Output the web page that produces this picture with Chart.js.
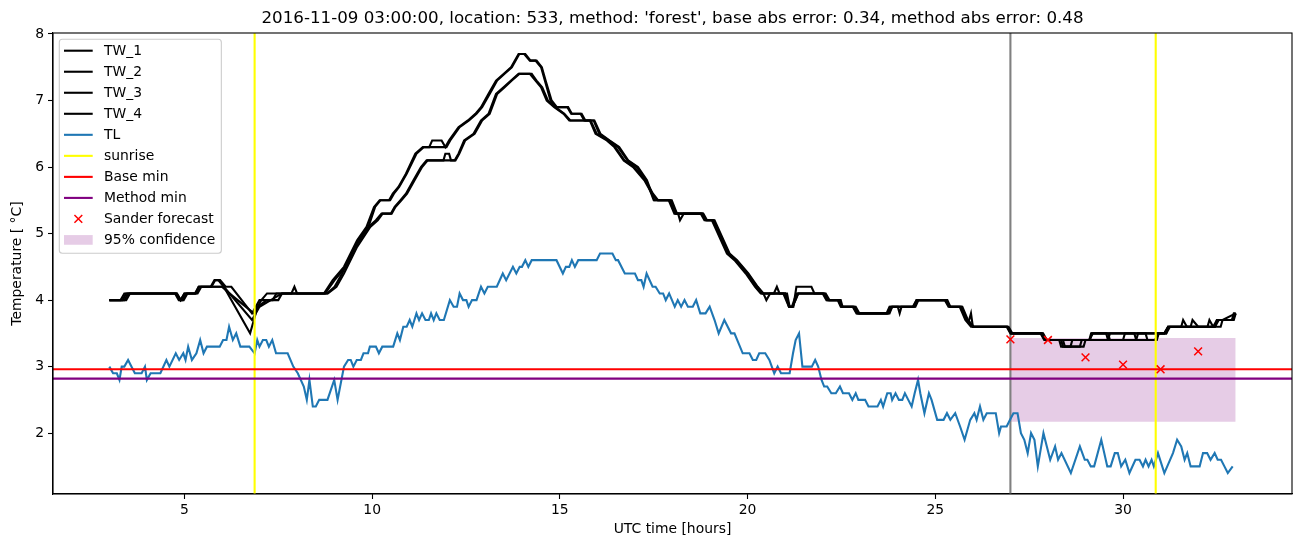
<!DOCTYPE html>
<html>
<head>
<meta charset="utf-8">
<script src="https://cdn.jsdelivr.net/npm/chart.js@4.4.1/dist/chart.umd.min.js"></script>
<style>
  html, body { margin: 0; padding: 0; background: #fff; }
  #wrap { width: 1302px; height: 547px; }
</style>
</head>
<body>
<div id="wrap"><canvas id="chart" width="1302" height="547"></canvas></div>
<script>
const titleText = "2016-11-09 03:00:00, location: 533, method: 'forest', base abs error: 0.34, method abs error: 0.48";
const fontFamily = '"DejaVu Sans", sans-serif';

const xTicks = [5, 10, 15, 20, 25, 30];
const yTicks = [2, 3, 4, 5, 6, 7, 8];
const xRange = [1.5, 34.5];
const yRange = [1.085, 8.015];

// [hour, value]
const TW_1 = [[3.0,4.0],[3.3,4.0],[3.4,4.1],[4.8,4.1],[4.9,4.0],[5.0,4.1],[5.3,4.1],[5.4,4.2],[5.7,4.2],[5.8,4.3],[5.95,4.3],[6.1,4.2],[6.25,4.2],[6.8,3.8],[7.0,4.0],[7.35,4.0],[7.45,4.1],[7.85,4.1],[7.93,4.2],[8.0,4.1],[8.72,4.1],[8.95,4.3],[9.25,4.5],[9.6,4.9],[9.85,5.1],[10.05,5.4],[10.2,5.5],[10.45,5.5],[10.55,5.6],[10.7,5.7],[10.9,5.9],[11.15,6.2],[11.35,6.3],[11.52,6.3],[11.6,6.4],[11.85,6.4],[11.95,6.3],[12.05,6.4],[12.3,6.6],[12.55,6.7],[12.75,6.8],[12.9,6.9],[13.1,7.1],[13.3,7.3],[13.5,7.4],[13.7,7.5],[13.9,7.7],[14.05,7.7],[14.2,7.6],[14.35,7.6],[14.5,7.5],[14.6,7.3],[14.75,7.0],[14.9,6.9],[15.2,6.9],[15.3,6.8],[15.55,6.8],[15.65,6.7],[15.9,6.7],[16.05,6.5],[16.3,6.4],[16.55,6.3],[16.8,6.1],[17.05,6.0],[17.3,5.8],[17.5,5.5],[17.9,5.5],[18.05,5.3],[18.8,5.3],[18.9,5.2],[19.1,5.2],[19.5,4.7],[19.7,4.6],[20.0,4.4],[20.25,4.2],[20.4,4.1],[21.0,4.1],[21.1,3.9],[21.2,3.9],[21.35,4.1],[22.05,4.1],[22.15,4.0],[22.45,4.0],[22.5,3.9],[22.85,3.9],[22.95,3.8],[23.7,3.8],[23.78,3.9],[24.45,3.9],[24.52,4.0],[25.3,4.0],[25.38,3.9],[25.7,3.9],[25.85,3.7],[26.0,3.6],[26.9,3.6],[27.0,3.5],[27.85,3.5],[27.95,3.4],[29.1,3.4],[29.15,3.5],[29.6,3.5],[29.65,3.4],[30.0,3.4],[30.05,3.5],[31.1,3.5],[31.2,3.6],[32.4,3.6],[32.5,3.7],[32.9,3.7],[33.0,3.8]];
const TW_2 = [[3.0,4.0],[3.35,4.0],[3.45,4.1],[4.78,4.1],[4.88,4.0],[4.95,4.0],[5.05,4.1],[5.3,4.1],[5.38,4.2],[5.72,4.2],[5.82,4.3],[5.9,4.3],[6.05,4.2],[6.8,3.7],[7.0,3.9],[7.3,4.0],[7.6,4.1],[8.75,4.1],[9.0,4.3],[9.3,4.5],[9.62,4.9],[9.9,5.1],[10.08,5.4],[10.22,5.5],[10.48,5.5],[10.58,5.6],[10.72,5.7],[10.92,5.9],[11.18,6.2],[11.38,6.3],[11.98,6.3],[12.08,6.4],[12.33,6.6],[12.58,6.7],[12.78,6.8],[12.93,6.9],[13.13,7.1],[13.33,7.3],[13.52,7.4],[13.72,7.5],[13.92,7.7],[14.08,7.7],[14.22,7.6],[14.38,7.6],[14.52,7.5],[14.62,7.3],[14.78,7.0],[14.92,6.9],[15.22,6.9],[15.32,6.8],[15.58,6.8],[15.68,6.7],[15.92,6.7],[16.08,6.5],[16.32,6.4],[16.58,6.3],[16.82,6.1],[17.08,6.0],[17.32,5.8],[17.52,5.5],[17.92,5.5],[18.08,5.3],[18.15,5.3],[18.2,5.2],[18.3,5.3],[18.82,5.3],[18.92,5.2],[19.12,5.2],[19.52,4.7],[19.72,4.6],[20.02,4.4],[20.27,4.2],[20.42,4.1],[20.5,4.0],[20.6,4.1],[20.7,4.1],[20.78,4.2],[20.85,4.1],[21.05,4.1],[21.12,3.9],[21.22,3.9],[21.3,4.2],[21.7,4.2],[21.78,4.1],[22.08,4.1],[22.18,4.0],[22.48,4.0],[22.53,3.9],[22.88,3.9],[22.98,3.8],[23.72,3.8],[23.8,3.9],[24.47,3.9],[24.55,4.0],[25.32,4.0],[25.4,3.9],[25.72,3.9],[25.87,3.7],[26.02,3.6],[26.92,3.6],[27.02,3.5],[27.87,3.5],[27.97,3.4],[28.3,3.4],[28.35,3.3],[28.6,3.3],[28.65,3.4],[29.12,3.4],[29.17,3.5],[30.3,3.5],[30.35,3.4],[30.9,3.4],[30.95,3.5],[31.15,3.5],[31.25,3.6],[31.55,3.6],[31.6,3.7],[31.7,3.6],[32.45,3.6],[32.55,3.7],[32.95,3.7],[33.0,3.8]];
const TW_3 = [[3.0,4.0],[3.4,4.0],[3.5,4.1],[4.8,4.1],[4.9,4.0],[5.0,4.1],[5.28,4.1],[5.38,4.2],[6.05,4.2],[6.75,3.5],[6.95,3.9],[7.2,4.0],[7.5,4.0],[7.6,4.1],[8.8,4.1],[9.0,4.2],[9.2,4.4],[9.55,4.8],[9.9,5.1],[10.1,5.2],[10.25,5.3],[10.5,5.3],[10.6,5.4],[10.75,5.5],[10.9,5.6],[11.1,5.8],[11.3,6.0],[11.45,6.1],[12.2,6.1],[12.3,6.2],[12.45,6.4],[12.7,6.5],[12.9,6.7],[13.1,6.8],[13.3,7.1],[13.5,7.2],[13.7,7.3],[13.9,7.4],[14.2,7.4],[14.35,7.3],[14.5,7.2],[14.65,7.0],[14.85,6.9],[15.1,6.8],[15.25,6.7],[15.8,6.7],[15.95,6.5],[16.25,6.4],[16.45,6.3],[16.7,6.1],[16.95,6.0],[17.25,5.8],[17.45,5.6],[17.6,5.5],[17.95,5.5],[18.1,5.3],[18.75,5.3],[18.85,5.2],[19.05,5.2],[19.45,4.7],[19.65,4.6],[19.95,4.4],[20.2,4.2],[20.35,4.1],[21.0,4.1],[21.12,3.9],[21.2,3.9],[21.35,4.1],[22.0,4.1],[22.1,4.0],[22.4,4.0],[22.48,3.9],[22.8,3.9],[22.9,3.8],[23.75,3.8],[23.85,3.9],[24.4,3.9],[24.5,4.0],[25.25,4.0],[25.35,3.9],[25.65,3.9],[25.8,3.7],[25.95,3.6],[26.95,3.6],[27.05,3.5],[27.8,3.5],[27.9,3.4],[28.35,3.4],[28.4,3.3],[28.85,3.3],[28.9,3.4],[29.1,3.4],[29.2,3.5],[29.55,3.5],[29.6,3.4],[30.35,3.4],[30.4,3.5],[31.1,3.5],[31.2,3.6],[31.8,3.6],[31.85,3.7],[32.0,3.6],[32.45,3.6],[32.5,3.7],[32.9,3.7],[32.95,3.8],[33.0,3.8]];
const TW_4 = [[3.0,4.0],[3.45,4.0],[3.55,4.1],[4.75,4.1],[4.85,4.0],[4.98,4.0],[5.08,4.1],[5.35,4.1],[5.45,4.2],[6.0,4.2],[6.2,4.1],[6.85,3.8],[7.05,4.0],[7.2,4.1],[8.82,4.1],[9.05,4.2],[9.25,4.4],[9.6,4.8],[9.95,5.1],[10.15,5.2],[10.28,5.3],[10.52,5.3],[10.62,5.4],[10.78,5.5],[10.93,5.6],[11.13,5.8],[11.33,6.0],[11.48,6.1],[11.9,6.1],[11.95,6.2],[12.05,6.2],[12.1,6.1],[12.22,6.1],[12.32,6.2],[12.48,6.4],[12.73,6.5],[12.93,6.7],[13.13,6.8],[13.33,7.1],[13.53,7.2],[13.72,7.3],[13.92,7.4],[14.25,7.4],[14.38,7.3],[14.53,7.2],[14.68,7.0],[14.88,6.9],[15.12,6.8],[15.28,6.7],[15.82,6.7],[15.98,6.5],[16.28,6.4],[16.48,6.3],[16.72,6.1],[16.98,6.0],[17.28,5.8],[17.48,5.6],[17.62,5.5],[17.98,5.5],[18.12,5.3],[18.78,5.3],[18.88,5.2],[19.08,5.2],[19.48,4.7],[19.68,4.6],[19.98,4.4],[20.22,4.2],[20.38,4.1],[20.95,4.1],[21.1,3.9],[21.18,3.9],[21.3,4.1],[22.02,4.1],[22.12,4.0],[22.42,4.0],[22.5,3.9],[22.82,3.9],[22.92,3.8],[23.78,3.8],[23.85,3.9],[24.0,3.9],[24.05,3.8],[24.1,3.9],[24.42,3.9],[24.5,4.0],[25.28,4.0],[25.38,3.9],[25.68,3.9],[25.82,3.7],[25.9,3.7],[25.95,3.8],[26.0,3.6],[26.92,3.6],[27.02,3.5],[27.82,3.5],[27.92,3.4],[28.4,3.4],[28.45,3.3],[28.95,3.3],[29.0,3.4],[29.6,3.4],[29.65,3.5],[30.6,3.5],[30.65,3.4],[30.85,3.4],[30.95,3.5],[31.15,3.5],[31.2,3.6],[32.25,3.6],[32.3,3.7],[32.4,3.6],[32.6,3.6],[32.65,3.7],[33.0,3.8]];

const TL = [[3.0,3.0],[3.1,2.9],[3.2,2.9],[3.27,2.8],[3.33,3.0],[3.4,3.0],[3.5,3.1],[3.68,2.9],[3.86,2.9],[3.95,3.0],[4.0,2.8],[4.1,2.9],[4.36,2.9],[4.52,3.1],[4.6,3.0],[4.77,3.2],[4.86,3.1],[4.97,3.2],[5.03,3.1],[5.1,3.3],[5.2,3.1],[5.32,3.2],[5.42,3.4],[5.51,3.2],[5.6,3.3],[5.94,3.3],[6.03,3.4],[6.12,3.4],[6.19,3.6],[6.29,3.4],[6.38,3.5],[6.49,3.3],[6.73,3.3],[6.87,3.2],[6.94,3.4],[7.0,3.3],[7.09,3.4],[7.18,3.4],[7.25,3.3],[7.34,3.4],[7.44,3.2],[7.75,3.2],[7.9,3.0],[8.02,2.9],[8.18,2.7],[8.26,2.5],[8.33,2.8],[8.42,2.4],[8.5,2.4],[8.59,2.5],[8.81,2.5],[8.99,2.8],[9.08,2.5],[9.25,3.0],[9.36,3.1],[9.43,3.1],[9.5,3.0],[9.59,3.1],[9.7,3.1],[9.77,3.2],[9.89,3.2],[9.94,3.3],[10.1,3.3],[10.18,3.2],[10.27,3.3],[10.56,3.3],[10.67,3.5],[10.74,3.4],[10.83,3.6],[10.92,3.6],[11.0,3.7],[11.07,3.6],[11.18,3.8],[11.25,3.7],[11.33,3.8],[11.42,3.7],[11.51,3.7],[11.57,3.8],[11.64,3.7],[11.71,3.8],[11.8,3.7],[11.91,3.7],[12.07,4.0],[12.17,3.9],[12.26,3.9],[12.33,4.1],[12.42,4.0],[12.51,4.0],[12.57,3.9],[12.66,4.0],[12.78,4.0],[12.9,4.2],[12.99,4.1],[13.08,4.2],[13.32,4.2],[13.48,4.4],[13.57,4.3],[13.75,4.5],[13.84,4.4],[13.93,4.5],[13.99,4.5],[14.08,4.6],[14.16,4.5],[14.25,4.6],[14.91,4.6],[15.08,4.4],[15.16,4.5],[15.25,4.5],[15.32,4.6],[15.4,4.5],[15.49,4.6],[15.98,4.6],[16.07,4.7],[16.4,4.7],[16.49,4.6],[16.55,4.6],[16.73,4.4],[17.0,4.4],[17.08,4.3],[17.17,4.3],[17.23,4.2],[17.31,4.4],[17.47,4.2],[17.55,4.2],[17.66,4.1],[17.75,4.1],[17.82,4.0],[17.91,4.1],[18.06,3.9],[18.14,4.0],[18.23,3.9],[18.32,4.0],[18.41,3.9],[18.54,3.9],[18.63,4.0],[18.74,3.8],[18.88,3.8],[18.99,3.9],[19.12,3.7],[19.23,3.5],[19.38,3.7],[19.56,3.5],[19.65,3.5],[19.87,3.2],[20.05,3.2],[20.14,3.1],[20.23,3.1],[20.31,3.2],[20.47,3.2],[20.58,3.1],[20.71,2.9],[20.8,3.0],[20.89,2.9],[21.12,2.9],[21.21,3.2],[21.28,3.4],[21.37,3.5],[21.46,3.0],[21.71,3.0],[21.8,3.1],[21.88,3.0],[21.97,2.8],[22.04,2.7],[22.12,2.7],[22.23,2.6],[22.35,2.6],[22.46,2.7],[22.54,2.6],[22.7,2.6],[22.79,2.5],[22.88,2.6],[22.95,2.5],[23.13,2.5],[23.22,2.4],[23.46,2.4],[23.55,2.5],[23.61,2.4],[23.72,2.6],[23.81,2.6],[23.85,2.5],[23.94,2.6],[24.03,2.5],[24.12,2.5],[24.19,2.6],[24.28,2.5],[24.37,2.4],[24.45,2.6],[24.54,2.8],[24.6,2.6],[24.71,2.3],[24.83,2.6],[24.9,2.5],[25.05,2.2],[25.22,2.2],[25.31,2.3],[25.4,2.2],[25.53,2.3],[25.66,2.1],[25.78,1.9],[25.93,2.2],[26.04,2.3],[26.1,2.2],[26.19,2.4],[26.28,2.2],[26.37,2.3],[26.61,2.3],[26.7,2.0],[26.75,2.1],[26.9,2.1],[26.99,2.2],[27.08,2.3],[27.19,2.3],[27.28,2.0],[27.37,1.9],[27.46,1.7],[27.55,2.0],[27.64,1.9],[27.73,1.5],[27.88,2.0],[27.97,1.8],[28.06,1.6],[28.19,1.8],[28.27,1.6],[28.36,1.7],[28.61,1.4],[28.85,1.8],[28.98,1.6],[29.05,1.6],[29.14,1.5],[29.23,1.5],[29.42,1.9],[29.58,1.5],[29.67,1.5],[29.78,1.7],[29.86,1.7],[29.95,1.5],[30.06,1.6],[30.17,1.4],[30.33,1.6],[30.44,1.6],[30.53,1.5],[30.6,1.6],[30.68,1.5],[30.76,1.6],[30.82,1.5],[30.93,1.7],[31.1,1.4],[31.33,1.7],[31.44,1.9],[31.55,1.8],[31.64,1.6],[31.71,1.7],[31.8,1.5],[32.04,1.5],[32.13,1.7],[32.24,1.7],[32.33,1.6],[32.44,1.7],[32.52,1.6],[32.61,1.6],[32.7,1.5],[32.79,1.4],[32.92,1.5]];

const sunriseHours = [6.87, 30.87];
const forecastStart = 27.0;
const baseMin = 2.96;
const methodMin = 2.82;
const sanderHours = [27, 28, 29, 30, 31, 32];
const sanderValues = [3.41, 3.40, 3.14, 3.03, 2.96, 3.23];
const confHours = [27.0, 33.0];
const confLow = 2.17;
const confHigh = 3.43;

function toPoints(pairs) {
    return pairs.map(function (p) { return { x: p[0], y: p[1] }; });
}

function vline(x) {
    return [{ x: x, y: yRange[0] }, { x: x, y: yRange[1] }];
}

function hline(y) {
    return [{ x: xRange[0], y: y }, { x: xRange[1], y: y }];
}

function lineSet(label, data, color, order) {
    return {
        label: label,
        data: data,
        borderColor: color,
        backgroundColor: color,
        borderWidth: 2.1,
        pointRadius: 0,
        pointHoverRadius: 0,
        fill: false,
        order: order
    };
}

var datasets = [
    lineSet("TW_1", toPoints(TW_1), "#000000", 20),
    lineSet("TW_2", toPoints(TW_2), "#000000", 19),
    lineSet("TW_3", toPoints(TW_3), "#000000", 18),
    lineSet("TW_4", toPoints(TW_4), "#000000", 17),
    lineSet("TL", toPoints(TL), "#1f77b4", 16),
    lineSet("sunrise", vline(sunriseHours[0]), "#ffff00", 15),
    lineSet("", vline(sunriseHours[1]), "#ffff00", 14),
    lineSet("Base min", hline(baseMin), "#ff0000", 13),
    lineSet("Method min", hline(methodMin), "#800080", 12),
    {
        label: "Sander forecast",
        data: sanderHours.map(function (h, i) { return { x: h, y: sanderValues[i] }; }),
        showLine: false,
        pointStyle: "crossRot",
        pointRadius: 5.5,
        pointHoverRadius: 5.5,
        pointBorderColor: "#ff0000",
        pointBackgroundColor: "#ff0000",
        pointBorderWidth: 1.5,
        borderColor: "#ff0000",
        order: 11
    },
    {
        label: "95% confidence",
        data: confHours.map(function (h) { return { x: h, y: confHigh }; }),
        borderWidth: 0,
        borderColor: "rgba(0,0,0,0)",
        backgroundColor: "rgba(128,0,128,0.2)",
        pointRadius: 0,
        fill: { value: confLow },
        order: 30
    }
];
datasets.push(lineSet("", vline(forecastStart), "#808080", 25));

const mplDecor = {
    id: "mplDecor",
    beforeDraw: function (chart) {
        var ctx = chart.ctx;
        ctx.save();
        ctx.fillStyle = "#ffffff";
        ctx.fillRect(0, 0, chart.width, chart.height);
        ctx.restore();
    },
    afterDraw: function (chart) {
        var ctx = chart.ctx, a = chart.chartArea;
        ctx.save();
        ctx.strokeStyle = "#000000";
        ctx.lineWidth = 1.1;
        ctx.strokeRect(a.left, a.top, a.right - a.left, a.bottom - a.top);

        ctx.fillStyle = "#000000";
        ctx.font = "16.7px " + fontFamily;
        ctx.textAlign = "center";
        ctx.textBaseline = "alphabetic";
        ctx.fillText(titleText, (a.left + a.right) / 2, a.top - 10);

        // legend box in the upper left corner, drawn like matplotlib does
        var items = chart.data.datasets.filter(function (d) { return d.label; });
        ctx.font = "13.9px " + fontFamily;
        var maxW = 0;
        items.forEach(function (d) { maxW = Math.max(maxW, ctx.measureText(d.label).width); });
        var bx = a.left + 6.3, by = a.top + 6.3;
        var bw = 44.7 + maxW + 6, bh = 214;
        var r = 3;
        ctx.beginPath();
        ctx.moveTo(bx + r, by);
        ctx.arcTo(bx + bw, by, bx + bw, by + bh, r);
        ctx.arcTo(bx + bw, by + bh, bx, by + bh, r);
        ctx.arcTo(bx, by + bh, bx, by, r);
        ctx.arcTo(bx, by, bx + bw, by, r);
        ctx.closePath();
        ctx.fillStyle = "rgba(255,255,255,0.8)";
        ctx.fill();
        ctx.strokeStyle = "#cccccc";
        ctx.lineWidth = 1.1;
        ctx.stroke();

        items.forEach(function (d, i) {
            var cy = by + 11.4 + i * 21.03;
            var hx0 = bx + 4.7, hx1 = bx + 33.4;
            if (d.showLine === false) {
                ctx.strokeStyle = d.pointBorderColor;
                ctx.lineWidth = 1.5;
                ctx.beginPath();
                var mx = (hx0 + hx1) / 2, s = 3.9;
                ctx.moveTo(mx - s, cy - s); ctx.lineTo(mx + s, cy + s);
                ctx.moveTo(mx - s, cy + s); ctx.lineTo(mx + s, cy - s);
                ctx.stroke();
            } else if (d.fill) {
                ctx.fillStyle = d.backgroundColor;
                ctx.fillRect(hx0, cy - 4.9, hx1 - hx0, 9.7);
            } else {
                ctx.strokeStyle = d.borderColor;
                ctx.lineWidth = 2.1;
                ctx.beginPath();
                ctx.moveTo(hx0, cy);
                ctx.lineTo(hx1, cy);
                ctx.stroke();
            }
            ctx.fillStyle = "#000000";
            ctx.textAlign = "left";
            ctx.textBaseline = "middle";
            ctx.fillText(d.label, bx + 44.7, cy + 0.5);
        });
        ctx.restore();
    }
};

function axisOptions(range, ticks, title, fitSize, isX) {
    return {
        type: "linear",
        min: range[0],
        max: range[1],
        afterBuildTicks: function (scale) {
            scale.ticks = ticks.map(function (v) { return { value: v }; });
        },
        afterFit: function (scale) {
            if (isX) scale.height = fitSize; else scale.width = fitSize;
        },
        grid: {
            drawOnChartArea: false,
            drawTicks: true,
            tickLength: 5,
            tickColor: "#000000",
            tickWidth: 1.1
        },
        border: { display: true, color: "#000000", width: 1.1 },
        ticks: {
            color: "#000000",
            font: { family: fontFamily, size: 13.9 },
            padding: isX ? 3 : 4,
            maxRotation: 0,
            autoSkip: false
        },
        title: {
            display: true,
            text: title,
            color: "#000000",
            font: { family: fontFamily, size: 13.9 },
            padding: isX ? { top: 0, bottom: 9 } : { top: 9, bottom: 0 }
        }
    };
}

new Chart(document.getElementById("chart"), {
    type: "line",
    data: { datasets: datasets },
    options: {
        responsive: false,
        devicePixelRatio: 1,
        animation: false,
        layout: { padding: { top: 33, right: 10, left: 0, bottom: 0 } },
        plugins: {
            legend: { display: false },
            tooltip: { enabled: false },
            title: { display: false }
        },
        scales: {
            x: axisOptions(xRange, xTicks, "UTC time [hours]", 53, true),
            y: axisOptions(yRange, yTicks, "Temperature [ °C]", 53, false)
        }
    },
    plugins: [mplDecor]
});
</script>
</body>
</html>
